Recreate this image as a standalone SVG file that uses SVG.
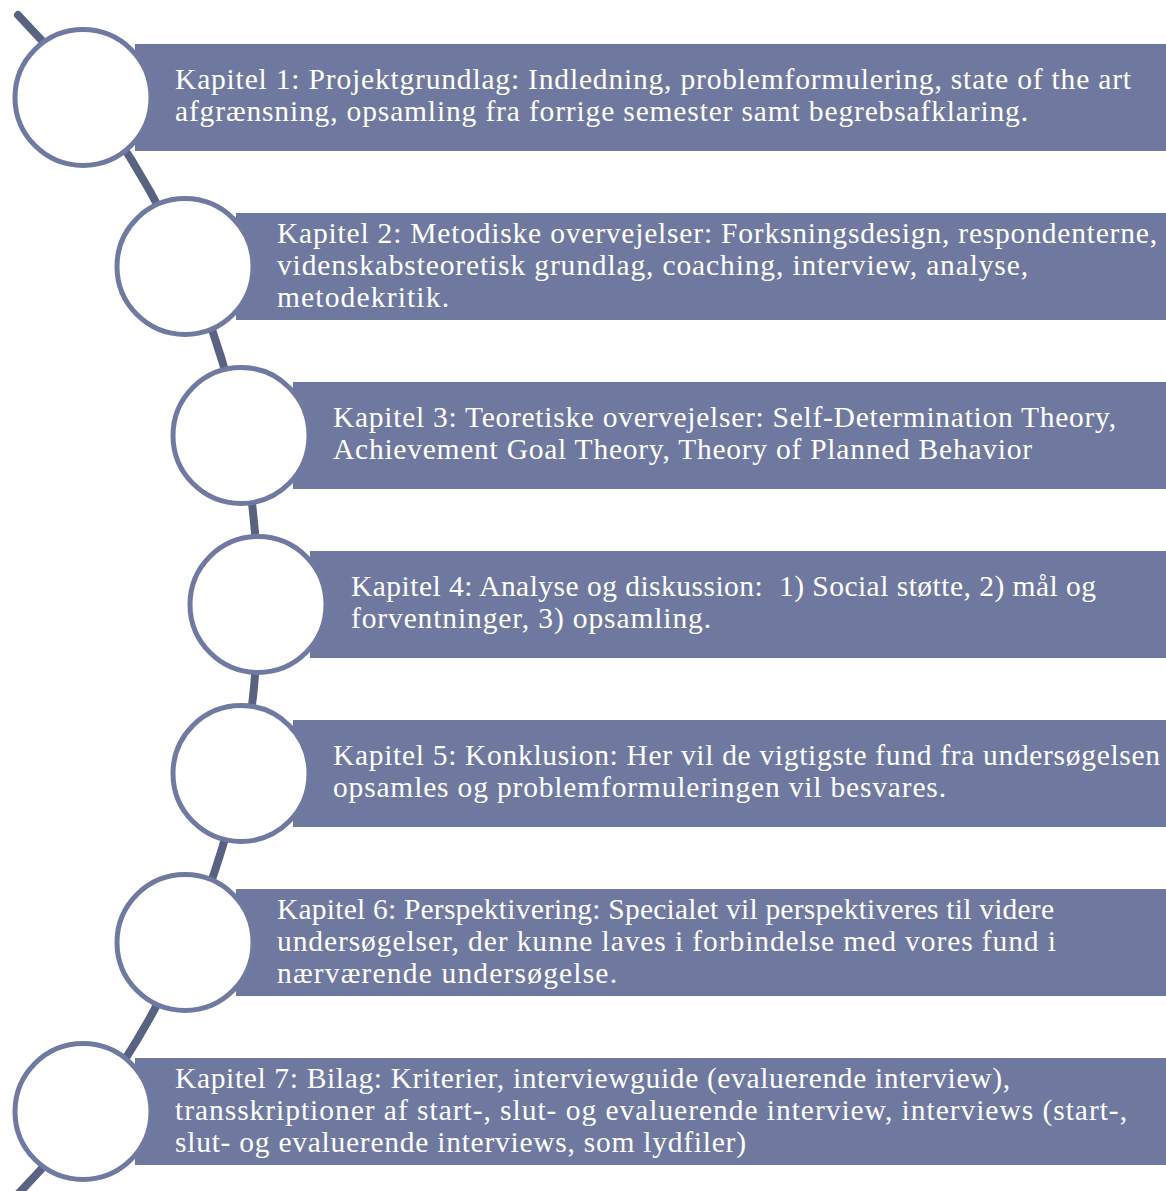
<svg xmlns="http://www.w3.org/2000/svg" width="1166" height="1191" viewBox="0 0 1166 1191">
  <style>
    .bar { fill: #6f79a0; }
    .dot { fill: #ffffff; stroke: #7079a0; stroke-width: 5; }
    .spine { fill: none; stroke: #5a6282; stroke-width: 8; stroke-linecap: round; }
    .lbl { font-family: "Liberation Serif", "DejaVu Serif", serif; font-size: 29.5px; fill: #ffffff; }
  </style>
  <rect x="0" y="0" width="1166" height="1191" fill="#ffffff"/>

  <!-- curved spine running behind the chapter markers -->
  <g id="connectors">
    <path class="spine" d="M 18 15 A 844 844 0 0 1 18 1194"/>
  </g>

  <g id="kapitel1">
    <rect class="bar" x="135" y="44" width="1031" height="107"/>
    <circle class="dot" cx="83" cy="97.5" r="68"/>
    <text class="lbl" x="175" y="89" textLength="956" lengthAdjust="spacing">Kapitel 1: Projektgrundlag: Indledning, problemformulering, state of the art</text>
    <text class="lbl" x="175" y="121" textLength="853" lengthAdjust="spacing">afgrænsning, opsamling fra forrige semester samt begrebsafklaring.</text>
  </g>

  <g id="kapitel2">
    <rect class="bar" x="236" y="213" width="930" height="107"/>
    <circle class="dot" cx="185" cy="266.5" r="68"/>
    <text class="lbl" x="277" y="243" textLength="880" lengthAdjust="spacing">Kapitel 2: Metodiske overvejelser: Forksningsdesign, respondenterne,</text>
    <text class="lbl" x="277" y="275" textLength="751" lengthAdjust="spacing">videnskabsteoretisk grundlag, coaching, interview, analyse,</text>
    <text class="lbl" x="277" y="307" textLength="172" lengthAdjust="spacing">metodekritik.</text>
  </g>

  <g id="kapitel3">
    <rect class="bar" x="293" y="382" width="873" height="107"/>
    <circle class="dot" cx="241" cy="435.5" r="68"/>
    <text class="lbl" x="333" y="427" textLength="783" lengthAdjust="spacing">Kapitel 3: Teoretiske overvejelser: Self-Determination Theory,</text>
    <text class="lbl" x="333" y="459" textLength="699" lengthAdjust="spacing">Achievement Goal Theory, Theory of Planned Behavior</text>
  </g>

  <g id="kapitel4">
    <rect class="bar" x="310" y="551" width="856" height="107"/>
    <circle class="dot" cx="258" cy="604.5" r="68"/>
    <text class="lbl" x="351" y="596" textLength="745" lengthAdjust="spacing" xml:space="preserve">Kapitel 4: Analyse og diskussion:  1) Social støtte, 2) mål og</text>
    <text class="lbl" x="351" y="628" textLength="360" lengthAdjust="spacing">forventninger, 3) opsamling.</text>
  </g>

  <g id="kapitel5">
    <rect class="bar" x="293" y="720" width="873" height="107"/>
    <circle class="dot" cx="241" cy="773.5" r="68"/>
    <text class="lbl" x="333" y="765" textLength="827" lengthAdjust="spacing">Kapitel 5: Konklusion: Her vil de vigtigste fund fra undersøgelsen</text>
    <text class="lbl" x="333" y="797" textLength="613" lengthAdjust="spacing">opsamles og problemformuleringen vil besvares.</text>
  </g>

  <g id="kapitel6">
    <rect class="bar" x="236" y="889" width="930" height="107"/>
    <circle class="dot" cx="185" cy="942.5" r="68"/>
    <text class="lbl" x="277" y="919" textLength="777" lengthAdjust="spacing">Kapitel 6: Perspektivering: Specialet vil perspektiveres til videre</text>
    <text class="lbl" x="277" y="951" textLength="779" lengthAdjust="spacing">undersøgelser, der kunne laves i forbindelse med vores fund i</text>
    <text class="lbl" x="277" y="983" textLength="340" lengthAdjust="spacing">nærværende undersøgelse.</text>
  </g>

  <g id="kapitel7">
    <rect class="bar" x="135" y="1058" width="1031" height="107"/>
    <circle class="dot" cx="83" cy="1111.5" r="68"/>
    <text class="lbl" x="175" y="1088" textLength="835" lengthAdjust="spacing">Kapitel 7: Bilag: Kriterier, interviewguide (evaluerende interview),</text>
    <text class="lbl" x="175" y="1120" textLength="952" lengthAdjust="spacing">transskriptioner af start-, slut- og evaluerende interview, interviews (start-,</text>
    <text class="lbl" x="175" y="1152" textLength="571" lengthAdjust="spacing">slut- og evaluerende interviews, som lydfiler)</text>
  </g>
</svg>
